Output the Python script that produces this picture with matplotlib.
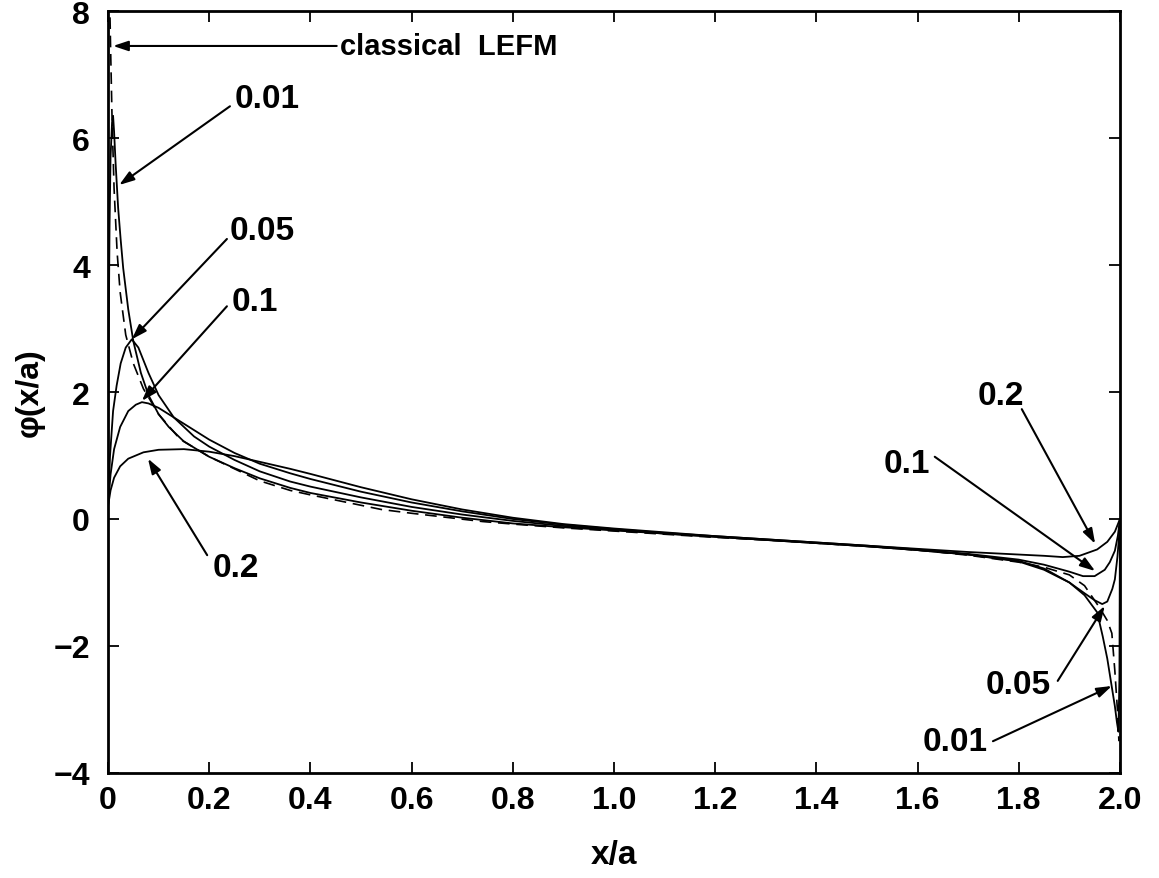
import matplotlib
matplotlib.use("Agg")
import matplotlib.pyplot as plt

plt.rcParams['font.family'] = ['Liberation Sans', 'DejaVu Sans']
plt.rcParams['font.weight'] = 'bold'

# ---- phi(x/a) for several process-zone sizes ----
x_001 = [0.0, 0.001, 0.003, 0.005, 0.008, 0.010, 0.012, 0.015, 0.020, 0.025, 0.030,
         0.040, 0.050, 0.065, 0.080, 0.10, 0.12, 0.15, 0.20, 0.25, 0.30, 0.36, 0.40,
         0.50, 0.60, 0.70, 0.80, 0.90, 1.00, 1.10, 1.20, 1.30, 1.40, 1.50, 1.60, 1.70,
         1.80, 1.85, 1.90, 1.93, 1.955, 1.966, 1.975, 1.98, 1.985, 1.99, 1.994, 1.997,
         1.999, 2.0]
y_001 = [0.0, 2.5, 4.6, 5.7, 6.25, 6.35, 6.1, 5.6, 4.9, 4.4, 3.95,
         3.3, 2.8, 2.3, 1.95, 1.65, 1.45, 1.22, 0.98, 0.80, 0.64, 0.49, 0.41,
         0.26, 0.13, 0.02, -0.07, -0.13, -0.18, -0.23, -0.28, -0.33, -0.38, -0.43, -0.49, -0.56,
         -0.66, -0.78, -1.0, -1.2, -1.47, -1.85, -2.2, -2.45, -2.7, -2.95, -3.2, -3.35,
         -2.5, 0.0]

x_005 = [0.0, 0.004, 0.010, 0.017, 0.025, 0.035, 0.047, 0.060, 0.080, 0.10, 0.13,
         0.17, 0.20, 0.25, 0.30, 0.36, 0.40, 0.50, 0.60, 0.70, 0.80, 0.90, 1.00,
         1.10, 1.20, 1.30, 1.40, 1.50, 1.60, 1.70, 1.80, 1.85, 1.90, 1.93, 1.95,
         1.965, 1.975, 1.985, 1.99, 1.995, 1.998, 2.0]
y_005 = [0.2, 1.0, 1.7, 2.1, 2.45, 2.7, 2.83, 2.7, 2.3, 1.95, 1.6,
         1.3, 1.14, 0.93, 0.75, 0.59, 0.51, 0.34, 0.19, 0.07, -0.03, -0.11, -0.17,
         -0.23, -0.28, -0.33, -0.38, -0.43, -0.49, -0.56, -0.67, -0.8, -1.0, -1.17, -1.28,
         -1.34, -1.3, -1.1, -0.95, -0.6, -0.3, 0.0]

x_01 = [0.0, 0.005, 0.012, 0.024, 0.040, 0.055, 0.067, 0.080, 0.10, 0.13, 0.16,
        0.20, 0.25, 0.30, 0.36, 0.40, 0.50, 0.60, 0.70, 0.80, 0.90, 1.00, 1.10,
        1.20, 1.30, 1.40, 1.50, 1.60, 1.70, 1.80, 1.85, 1.90, 1.927, 1.95, 1.97,
        1.98, 1.99, 1.996, 2.0]
y_01 = [0.2, 0.7, 1.1, 1.45, 1.7, 1.8, 1.84, 1.82, 1.75, 1.6, 1.45,
        1.25, 1.04, 0.87, 0.72, 0.63, 0.43, 0.26, 0.12, 0.0, -0.09, -0.16, -0.22,
        -0.27, -0.32, -0.37, -0.42, -0.48, -0.55, -0.64, -0.72, -0.83, -0.9, -0.9, -0.8,
        -0.68, -0.5, -0.26, 0.0]

x_02 = [0.0, 0.005, 0.012, 0.024, 0.040, 0.070, 0.10, 0.15, 0.20, 0.25, 0.30,
        0.36, 0.40, 0.50, 0.60, 0.70, 0.80, 0.90, 1.00, 1.10, 1.20, 1.30, 1.40,
        1.50, 1.60, 1.70, 1.80, 1.85, 1.887, 1.92, 1.955, 1.975, 1.99, 2.0]
y_02 = [0.2, 0.45, 0.65, 0.83, 0.95, 1.05, 1.09, 1.1, 1.06, 0.99, 0.90,
        0.79, 0.71, 0.50, 0.31, 0.15, 0.02, -0.08, -0.15, -0.21, -0.27, -0.32, -0.37,
        -0.42, -0.47, -0.52, -0.56, -0.58, -0.6, -0.58, -0.48, -0.36, -0.2, 0.0]

# classical LEFM solution (singular at both crack tips)
x_lefm = [0.002, 0.003, 0.005, 0.008, 0.012, 0.018, 0.024, 0.035, 0.050, 0.070, 0.10,
          0.142, 0.20, 0.30, 0.36, 0.40, 0.54, 0.60, 0.74, 0.80, 0.90, 1.00, 1.10,
          1.20, 1.30, 1.40, 1.50, 1.60, 1.70, 1.80, 1.85, 1.90, 1.93, 1.96, 1.975,
          1.984, 1.99, 1.995, 1.998]
y_lefm = [10.0, 8.3, 7.45, 6.3, 5.2, 4.2, 3.57, 2.9, 2.45, 2.05, 1.65,
          1.26, 0.98, 0.6, 0.45, 0.38, 0.15, 0.09, -0.04, -0.08, -0.14, -0.19, -0.24,
          -0.29, -0.33, -0.38, -0.43, -0.49, -0.57, -0.68, -0.76, -0.88, -1.05, -1.4, -1.6,
          -1.8, -2.4, -3.0, -3.5]

x_ticks = [0, 0.2, 0.4, 0.6, 0.8, 1.0, 1.2, 1.4, 1.6, 1.8, 2.0]
x_tick_labels = ['0', '0.2', '0.4', '0.6', '0.8', '1.0', '1.2', '1.4', '1.6', '1.8', '2.0']
y_ticks = [-4, -2, 0, 2, 4, 6, 8]
y_tick_labels = ['\u22124', '\u22122', '0', '2', '4', '6', '8']

fig = plt.figure(figsize=(11.59, 8.79), dpi=100)
ax = fig.add_axes([0.0932, 0.1195, 0.8731, 0.8668])

lw = 1.3
ax.plot(x_001, y_001, color='black', lw=lw)
ax.plot(x_005, y_005, color='black', lw=lw)
ax.plot(x_01, y_01, color='black', lw=lw)
ax.plot(x_02, y_02, color='black', lw=lw)
ax.plot(x_lefm, y_lefm, color='black', lw=1.2, dashes=(7, 4))

ax.set_xlim(0, 2.0)
ax.set_ylim(-4, 8)
ax.set_xticks(x_ticks)
ax.set_xticklabels(x_tick_labels)
ax.set_yticks(y_ticks)
ax.set_yticklabels(y_tick_labels)
ax.tick_params(direction='in', top=True, right=True, length=8, width=1.3,
               labelsize=23)
ax.tick_params(axis='x', pad=9)
ax.tick_params(axis='y', pad=13)
for s in ax.spines.values():
    s.set_linewidth(2.0)

ax.set_xlabel('x/a', fontsize=24, fontweight='bold', labelpad=17)
ax.set_ylabel('\u03c6(x/a)', fontsize=23, fontweight='bold', labelpad=6)

arrow = dict(arrowstyle='-|>,head_length=0.9,head_width=0.3', color='black',
             lw=1.5, shrinkA=0, shrinkB=0)

def label(txt, text_xy, tail_xy, tip_xy, ha='left'):
    ax.text(text_xy[0], text_xy[1], txt, fontsize=24, fontweight='bold',
            ha=ha, va='center')
    ax.annotate('', xy=tip_xy, xytext=tail_xy, arrowprops=arrow)

# left crack tip
label('0.01', (0.251, 6.63), (0.241, 6.5), (0.022, 5.26))
label('0.05', (0.241, 4.54), (0.235, 4.41), (0.047, 2.83))
label('0.1', (0.245, 3.43), (0.235, 3.35), (0.067, 1.86))
label('0.2', (0.207, -0.76), (0.196, -0.57), (0.079, 0.95))

# right crack tip
label('0.2', (1.765, 1.95), (1.806, 1.73), (1.951, -0.39), ha='center')
label('0.1', (1.579, 0.87), (1.634, 0.98), (1.951, -0.82), ha='center')
label('0.05', (1.798, -2.6), (1.877, -2.55), (1.970, -1.37), ha='center')
label('0.01', (1.674, -3.5), (1.749, -3.5), (1.984, -2.63), ha='center')

ax.text(0.458, 7.45, 'classical  LEFM', fontsize=21, fontweight='bold',
        ha='left', va='center')
ax.annotate('', xy=(0.01, 7.45), xytext=(0.452, 7.45), arrowprops=arrow)

fig.savefig('out.png', dpi=100)
